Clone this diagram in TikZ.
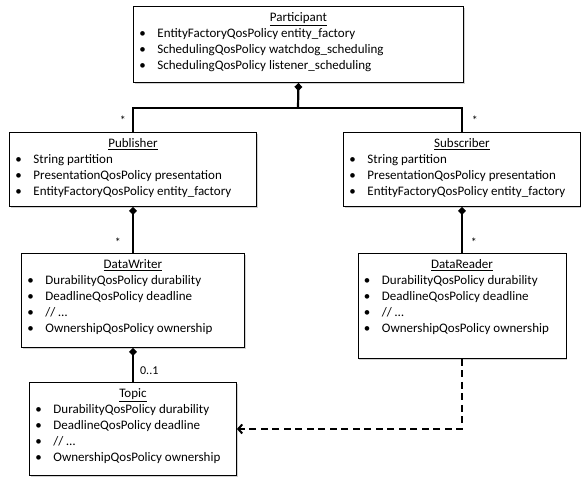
\documentclass[tikz,border=0pt]{standalone}
\usepackage{fontspec}
\setmainfont{Carlito}
\usepackage{tikz}
\usetikzlibrary{arrows.meta, shadows}

% class box: width, height, title, attribute lines
\newcommand{\umlclass}[4]{\parbox[t][#2][t]{#1}{\centering\rule{0pt}{15.5pt}\underline{#3}\par\raggedright #4}}
\newcommand{\attr}[1]{\hspace*{6pt}\makebox[18pt][l]{\textbullet}#1\par}

\begin{document}
\begin{tikzpicture}[x=1pt, y=-1pt,
    cls/.style={draw, fill=white, line width=0.9pt, inner sep=0pt, anchor=north west,
      font=\fontsize{13}{15.8}\selectfont,
      drop shadow={shadow xshift=1.2pt, shadow yshift=-1.2pt, fill=black!35}},
    link/.style={line width=2.2pt},
    owns/.style={link, {Diamond[length=8pt, width=8pt]}-},
    uses/.style={line width=2pt, dash pattern=on 7pt off 4.5pt, -{Straight Barb[length=4pt, width=9pt]}},
    mult/.style={font=\fontsize{12}{14}\selectfont, inner sep=0pt}]
  \useasboundingbox (0,0) rectangle (581,479);

  % classes
  \node[cls] (part) at (133,6) {\umlclass{330pt}{76pt}{Participant}{%
    \attr{EntityFactoryQosPolicy entity\_factory}
    \attr{SchedulingQosPolicy watchdog\_scheduling}
    \attr{SchedulingQosPolicy listener\_scheduling}}};
  \node[cls] (pub) at (9,132) {\umlclass{247pt}{74pt}{Publisher}{%
    \attr{String partition}
    \attr{PresentationQosPolicy presentation}
    \attr{EntityFactoryQosPolicy entity\_factory}}};
  \node[cls] (sub) at (343,132) {\umlclass{237pt}{74pt}{Subscriber}{%
    \attr{String partition}
    \attr{PresentationQosPolicy presentation}
    \attr{EntityFactoryQosPolicy entity\_factory}}};
  \node[cls] (dw) at (21,253) {\umlclass{223pt}{94pt}{DataWriter}{%
    \attr{DurabilityQosPolicy durability}
    \attr{DeadlineQosPolicy deadline}
    \attr{// …}
    \attr{OwnershipQosPolicy ownership}}};
  \node[cls] (dr) at (357.5,253) {\umlclass{208pt}{105pt}{DataReader}{%
    \attr{DurabilityQosPolicy durability}
    \attr{DeadlineQosPolicy deadline}
    \attr{// …}
    \attr{OwnershipQosPolicy ownership}}};
  \node[cls] (topic) at (29,382) {\umlclass{207pt}{93pt}{Topic}{%
    \attr{DurabilityQosPolicy durability}
    \attr{DeadlineQosPolicy deadline}
    \attr{// …}
    \attr{OwnershipQosPolicy ownership}}};

  % connectors
  \coordinate (bar) at (298,108);
  \draw[owns] (part.south) -- (bar);
  \draw[link] (pub.north) |- (bar) -| (sub.north);
  \draw[owns] (pub.south) -- (dw.north);
  \draw[owns] (sub.south) -- (dr.north);
  \draw[owns] (dw.south) -- (topic.north);
  \draw[uses] (dr.south) |- (topic.east);

  % multiplicities
  \node[mult] (m1) at ([xshift=-10pt, yshift=12pt] pub.north) {*};
  \node[mult] (m2) at ([xshift=13pt, yshift=12pt] sub.north) {*};
  \node[mult] (m3) at ([xshift=-15pt, yshift=11pt] dw.north) {*};
  \node[mult] (m4) at ([xshift=12pt, yshift=11pt] dr.north) {*};
  \node[mult, anchor=west] (m5) at ([xshift=7pt, yshift=11pt] topic.north) {0..1};
\end{tikzpicture}
\end{document}
